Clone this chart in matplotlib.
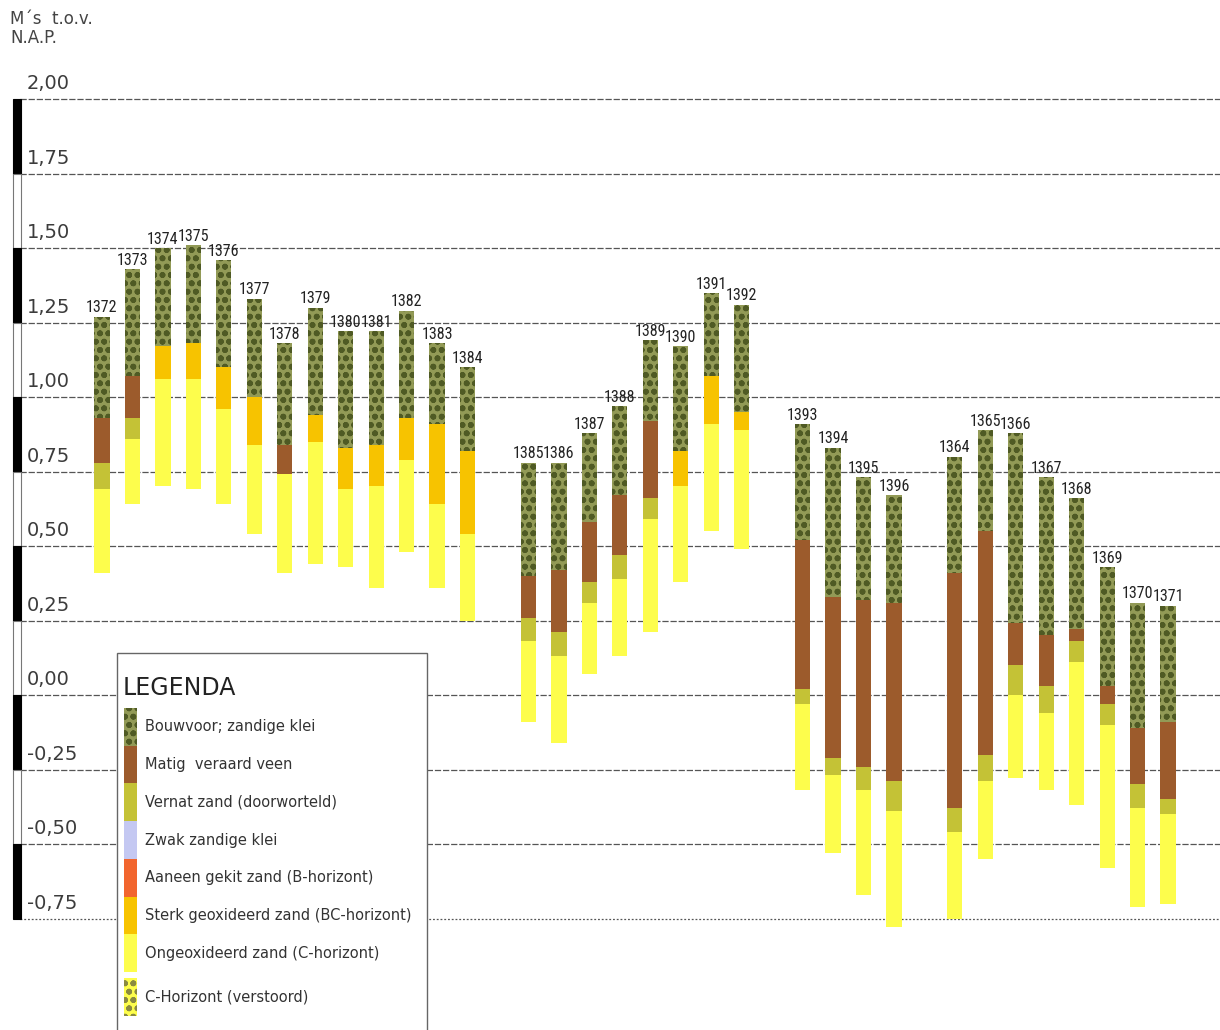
import matplotlib
matplotlib.use("Agg")
import matplotlib.pyplot as plt
from matplotlib.patches import Rectangle
import matplotlib.transforms as mtransforms
import logging
logging.getLogger('matplotlib.font_manager').setLevel(logging.ERROR)

# ---------------- data ----------------
group_sizes = [13, 8, 4, 8]
boring_ids = ['1372', '1373', '1374', '1375', '1376', '1377', '1378', '1379', '1380', '1381', '1382', '1383', '1384',
              '1385', '1386', '1387', '1388', '1389', '1390', '1391', '1392',
              '1393', '1394', '1395', '1396',
              '1364', '1365', '1366', '1367', '1368', '1369', '1370', '1371']
# top of each boring (m t.o.v. NAP)
tops = [1.27, 1.43, 1.50, 1.51, 1.46, 1.33, 1.18, 1.30, 1.22, 1.22, 1.29, 1.18, 1.10,
        0.78, 0.78, 0.88, 0.97, 1.19, 1.17, 1.35, 1.31,
        0.91, 0.83, 0.73, 0.67,
        0.80, 0.89, 0.88, 0.73, 0.66, 0.43, 0.31, 0.30]
# layer thicknesses (m), from top to bottom
bouwvoor = [0.34, 0.36, 0.33, 0.33, 0.36, 0.33, 0.34, 0.36, 0.39, 0.38, 0.36, 0.27, 0.28,
            0.38, 0.36, 0.30, 0.30, 0.27, 0.35, 0.28, 0.36,
            0.39, 0.50, 0.41, 0.36,
            0.39, 0.34, 0.64, 0.53, 0.44, 0.40, 0.42, 0.39]
veen = [0.15, 0.14, 0.00, 0.00, 0.00, 0.00, 0.10, 0.00, 0.00, 0.00, 0.00, 0.00, 0.00,
        0.14, 0.21, 0.20, 0.20, 0.26, 0.00, 0.00, 0.00,
        0.50, 0.54, 0.56, 0.60,
        0.79, 0.75, 0.14, 0.17, 0.04, 0.06, 0.19, 0.26]
vernat = [0.09, 0.07, 0.00, 0.00, 0.00, 0.00, 0.00, 0.00, 0.00, 0.00, 0.00, 0.00, 0.00,
          0.08, 0.08, 0.07, 0.08, 0.07, 0.00, 0.00, 0.00,
          0.05, 0.06, 0.08, 0.10,
          0.08, 0.09, 0.10, 0.09, 0.07, 0.07, 0.08, 0.05]
sterk_geox = [0.00, 0.00, 0.11, 0.12, 0.14, 0.16, 0.00, 0.09, 0.14, 0.14, 0.14, 0.27, 0.28,
              0.00, 0.00, 0.00, 0.00, 0.00, 0.12, 0.16, 0.06,
              0.00, 0.00, 0.00, 0.00,
              0.00, 0.00, 0.00, 0.00, 0.00, 0.00, 0.00, 0.00]
ongeox = [0.28, 0.22, 0.36, 0.37, 0.32, 0.30, 0.33, 0.41, 0.26, 0.34, 0.31, 0.28, 0.29,
          0.27, 0.29, 0.24, 0.26, 0.38, 0.32, 0.36, 0.40,
          0.29, 0.26, 0.35, 0.39,
          0.29, 0.26, 0.28, 0.26, 0.48, 0.48, 0.33, 0.30]

y_ticks = [2.00, 1.75, 1.50, 1.25, 1.00, 0.75, 0.50, 0.25, 0.00, -0.25, -0.50, -0.75]

legend_labels = ['Bouwvoor; zandige klei', 'Matig  veraard veen', 'Vernat zand (doorworteld)',
                 'Zwak zandige klei', 'Aaneen gekit zand (B-horizont)',
                 'Sterk geoxideerd zand (BC-horizont)', 'Ongeoxideerd zand (C-horizont)',
                 'C-Horizont (verstoord)']

# ---------------- style ----------------
C_BOUW = '#929a56'
C_BOUW_DOT = '#4f5a24'
C_VEEN = '#9c5b2c'
C_VERNAT = '#c4c236'
C_ZWAK = '#c4c8f2'
C_AANEEN = '#f2652e'
C_STERK = '#f7c300'
C_ONGEOX = '#fdfd4c'
legend_colors = [C_BOUW, C_VEEN, C_VERNAT, C_ZWAK, C_AANEEN, C_STERK, C_ONGEOX, C_ONGEOX]
legend_hatch = ['oo', None, None, None, None, None, None, 'oo']
legend_hatch_col = [C_BOUW_DOT, None, None, None, None, None, None, '#8a8a40']

plt.rcParams['hatch.linewidth'] = 1.8
plt.rcParams['font.family'] = ['DejaVu Sans']
NARROW = ['Noto Sans ExtraCondensed', 'Roboto Condensed', 'Liberation Sans Narrow', 'Noto Sans', 'DejaVu Sans']

W, H = 1220, 1030
fig = plt.figure(figsize=(W / 100, H / 100), dpi=100)
ax = fig.add_axes([0, 0, 1, 1])

# pixel layout of the plotting area
X0, PITCH = 102.0, 30.46      # px of first slot, px per slot
Y0, PXU = 695.0, 298.0        # px of NAP 0, px per metre
ax.set_xlim((0 - X0) / PITCH, (W - X0) / PITCH)
ax.set_ylim((Y0 - H) / PXU, Y0 / PXU)
ax.axis('off')

blend = mtransforms.blended_transform_factory(ax.transAxes, ax.transData)

# grid lines
for v in y_ticks:
    ls = (0, (1.5, 1.5)) if v == y_ticks[-1] else (0, (5, 1.5))
    ax.axhline(v, xmin=20 / W, xmax=1, color='#555555', lw=0.9, ls=ls, zorder=1)
    ax.text(27 / W, v + 0.02, f"{v:.2f}".replace('.', ','), transform=blend,
            ha='left', va='bottom', fontsize=14, color='#3c3c3c')

# black/white scale bar
for i in range(len(y_ticks) - 1):
    top_v, bot_v = y_ticks[i], y_ticks[i + 1]
    black = (i % 2 == 0)
    ax.add_patch(Rectangle((13 / W, bot_v), 8 / W, top_v - bot_v, transform=blend,
                           facecolor='black' if black else 'white',
                           edgecolor='black' if black else '#777777',
                           lw=0.8, zorder=3))

ax.text(10 / W, 2.332 - 10 / PXU, "M\u00b4s  t.o.v.\nN.A.P.", transform=blend,
        ha='left', va='top', fontsize=12, color='#444444', linespacing=1.05)

# bar positions (slots with a gap between groups)
pos = []
s = 0
for g in group_sizes:
    pos.extend(range(s, s + g))
    s += g + 1

layers = [
    (bouwvoor, C_BOUW, 'oo', C_BOUW_DOT),
    (veen, C_VEEN, None, None),
    (vernat, C_VERNAT, None, None),
    (sterk_geox, C_STERK, None, None),
    (ongeox, C_ONGEOX, None, None),
]
current = list(tops)
for vals, col, hatch, hcol in layers:
    bottoms = [c - t for c, t in zip(current, vals)]
    bars = ax.bar(pos, vals, bottom=bottoms, width=0.5, color=col, lw=0, zorder=4)
    if hatch:
        for b in bars:
            b.set_hatch(hatch)
            b.set_edgecolor(hcol)
            b.set_linewidth(0)
    current = bottoms

for p, t, lab in zip(pos, tops, boring_ids):
    ax.text(p, t + 0.004, lab, ha='center', va='bottom', fontsize=11.5,
            family=NARROW, stretch='extra-condensed', color='#222222', zorder=5)

# ---------------- legend box ----------------
lg = fig.add_axes([0, 0, 1, 1], zorder=10)
lg.set_xlim(0, W)
lg.set_ylim(H, 0)
lg.axis('off')
lg.patch.set_alpha(0)
lg.add_patch(Rectangle((117, 653), 310, 420, facecolor='white', edgecolor='#666666', lw=1.0))
lg.text(123, 688, 'LEGENDA', ha='left', va='center', fontsize=17, color='#222222')
for i, (lab, col, hat, hcol) in enumerate(zip(legend_labels, legend_colors, legend_hatch, legend_hatch_col)):
    y0 = 708 + i * 37.7 + (6 if i == 7 else 0)
    r = Rectangle((124, y0), 13, 37.7, facecolor=col, lw=0)
    if hat:
        r.set_hatch(hat)
        r.set_edgecolor(hcol)
    lg.add_patch(r)
    lg.text(145, y0 + 19, lab, ha='left', va='center', fontsize=10.5, color='#333333')

fig.savefig('out.png', dpi=100)
